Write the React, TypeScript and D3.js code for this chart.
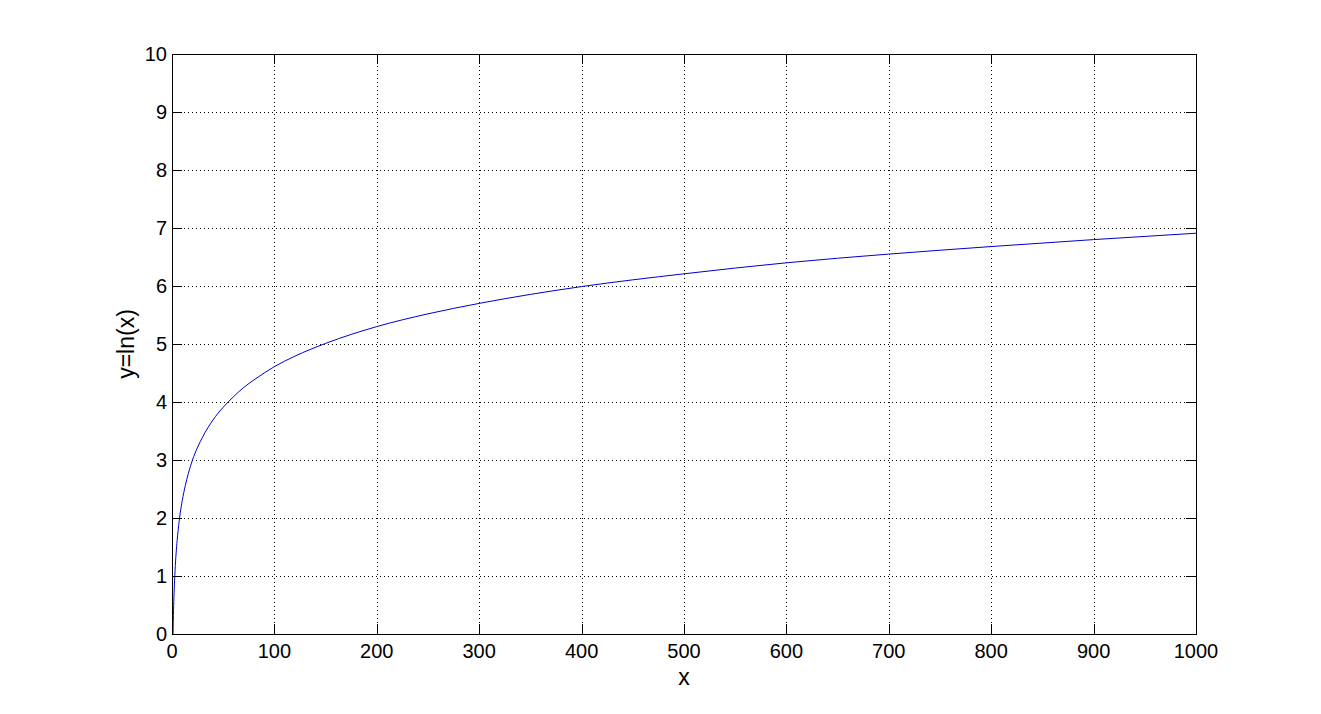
import React, { useEffect, useRef } from "react";
import * as d3 from "d3";

const xValues = [1, 1.5, 2, 3, 4, 5, 6, 8, 10, 13, 16, 20, 25, 30, 40, 50, 60, 70, 80, 100, 120, 150, 200, 250, 300, 400, 500, 600, 700, 800, 900, 1000];
const yValues = [0, 0.41, 0.69, 1.10, 1.39, 1.61, 1.79, 2.08, 2.30, 2.56, 2.77, 3.00, 3.22, 3.40, 3.69, 3.91, 4.09, 4.25, 4.38, 4.61, 4.79, 5.01, 5.30, 5.52, 5.70, 5.99, 6.21, 6.40, 6.55, 6.68, 6.80, 6.91];
const xTicks = [0, 100, 200, 300, 400, 500, 600, 700, 800, 900, 1000];
const yTicks = [0, 1, 2, 3, 4, 5, 6, 7, 8, 9, 10];
const xLabel = "x";
const yLabel = "y=ln(x)";

const W = 1321, H = 714;
const L = 172, R = 1196, T = 54, B = 634;
const FONT = "Arial, 'Liberation Sans', sans-serif";

export default function App() {
  const ref = useRef<SVGSVGElement>(null);
  useEffect(() => {
    const svg = d3.select(ref.current);
    svg.selectAll("*").remove();
    const x = d3.scaleLinear().domain([0, 1000]).range([L, R]);
    const y = d3.scaleLinear().domain([0, 10]).range([B, T]);

    svg.append("rect").attr("width", W).attr("height", H).attr("fill", "#fff");

    const g = svg.append("g");
    xTicks.slice(1, -1).forEach((t) => {
      g.append("line").attr("x1", Math.round(x(t)) + 0.5).attr("x2", Math.round(x(t)) + 0.5)
        .attr("y1", T).attr("y2", B).attr("stroke", "#000").attr("stroke-width", 1)
        .attr("stroke-dasharray", "1,3");
    });
    yTicks.slice(1, -1).forEach((t) => {
      g.append("line").attr("y1", Math.round(y(t)) + 0.5).attr("y2", Math.round(y(t)) + 0.5)
        .attr("x1", L).attr("x2", R).attr("stroke", "#000").attr("stroke-width", 1)
        .attr("stroke-dasharray", "1,3");
    });

    const pts = xValues.map((v, i) => [v, yValues[i]] as [number, number]);
    const line = d3.line<[number, number]>().x((d) => x(d[0])).y((d) => y(d[1])).curve(d3.curveMonotoneX);
    g.append("path").attr("d", line(pts)).attr("fill", "none").attr("stroke", "#0000cc").attr("stroke-width", 1);

    const tl = 10;
    xTicks.forEach((t) => {
      const px = Math.round(x(t)) + 0.5;
      g.append("line").attr("x1", px).attr("x2", px).attr("y1", B).attr("y2", B - tl).attr("stroke", "#000");
      g.append("line").attr("x1", px).attr("x2", px).attr("y1", T).attr("y2", T + tl).attr("stroke", "#000");
      g.append("text").attr("x", x(t)).attr("y", B + 24).attr("text-anchor", "middle")
        .attr("font-family", FONT).attr("font-size", 20).attr("fill", "#000").text(String(t));
    });
    yTicks.forEach((t) => {
      const py = Math.round(y(t)) + 0.5;
      g.append("line").attr("y1", py).attr("y2", py).attr("x1", L).attr("x2", L + tl).attr("stroke", "#000");
      g.append("line").attr("y1", py).attr("y2", py).attr("x1", R).attr("x2", R - tl).attr("stroke", "#000");
      g.append("text").attr("x", L - 5).attr("y", y(t) + 7).attr("text-anchor", "end")
        .attr("font-family", FONT).attr("font-size", 20).attr("fill", "#000").text(String(t));
    });

    g.append("rect").attr("x", L + 0.5).attr("y", T + 0.5).attr("width", R - L).attr("height", B - T)
      .attr("fill", "none").attr("stroke", "#000").attr("stroke-width", 1);

    g.append("text").attr("x", (L + R) / 2).attr("y", 685).attr("text-anchor", "middle")
      .attr("font-family", FONT).attr("font-size", 23).attr("fill", "#000").text(xLabel);
    g.append("text").attr("transform", `translate(134,${(T + B) / 2}) rotate(-90)`).attr("text-anchor", "middle")
      .attr("font-family", FONT).attr("font-size", 23).attr("fill", "#000").text(yLabel);
  }, []);
  return (
    <svg ref={ref} width={W} height={H} style={{ position: "absolute", left: 0, top: 0 }} />
  );
}
